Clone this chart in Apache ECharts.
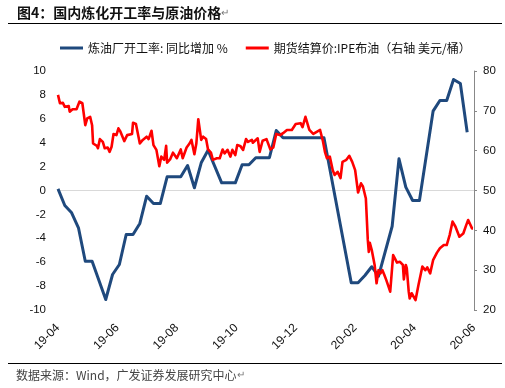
<!DOCTYPE html>
<html><head><meta charset="utf-8">
<script src="https://cdn.jsdelivr.net/npm/echarts@6/dist/echarts.min.js"></script>
<style>html,body{margin:0;padding:0;background:#fff}#c{width:505px;height:388px}</style>
</head><body><div id="c"></div>
<script>
// x values are days since 2019-04-01; ticks every 61 days (~2 months)
const tickLabels = ['19-04','19-06','19-08','19-10','19-12','20-02','20-04','20-06'];
const blueName = '炼油厂开工率: 同比增加 %';
const redName = '期货结算价:IPE布油（右轴 美元/桶）';

const blueDays = [0,7,14,21,28,35,49,56,63,70,77,84,91,98,105,112,126,133,140,147,154,168,182,189,196,203,217,224,231,273,301,308,315,322,329,343,350,357,364,371,385,392,399,406,413,420];
const blueValues = [0.14,-1.26,-1.87,-3.12,-5.92,-5.92,-9.12,-7.03,-6.19,-3.68,-3.68,-2.76,-0.48,-1.09,-1.09,1.15,1.15,2.09,0.23,2.32,3.37,0.64,0.64,2.15,2.15,2.74,2.74,5.02,4.41,4.41,-7.72,-7.72,-7.11,-6.38,-7.17,-2.99,2.65,0.28,-0.84,-0.84,6.64,7.53,7.53,9.29,8.95,4.88];

const redDays = [0,2,5,7,11,12,15,19,22,25,
28,30,33,35,36,40,41,43,46,48,
51,53,55,57,60,62,64,66,68,71,
73,76,77,80,81,84,87,89,91,93,
96,98,101,104,106,109,111,112,115,118,
122,124,126,128,130,132,135,137,140,142,
144,147,149,152,154,157,159,163,166,169,
171,174,177,179,182,184,187,190,193,195,
199,200,202,205,207,210,214,216,218,221,
224,228,231,235,240,244,249,251,254,256,
258,262,266,269,272,274,276,279,282,284,
287,290,292,296,299,302,305,308,311,313,
316,318,319,320,322,324,325,327,329,331,
333,335,337,341,344,346,348,351,354,355,
357,358,360,361,363,365,367,370,372,374,
377,379,382,385,389,392,394,396,399,402,
405,408,410,412,416,419,421,423,425,426];
const redValues = [74.0,71.9,72.0,71.0,71.2,69.8,70.4,70.4,72.3,71.9,
66.4,68.1,68.5,66.4,61.8,61.2,60.6,62.9,62.2,60.6,
60.8,59.7,61.0,64.2,63.9,65.6,64.8,64.9,62.4,63.9,
63.7,64.2,67.0,66.7,66.9,61.8,62.7,62.5,63.5,62.9,
65.0,61.4,60.2,56.1,58.5,57.7,61.2,57.0,57.8,59.5,
58.1,58.5,60.3,58.1,58.5,60.8,61.8,62.7,59.1,61.8,
67.9,62.7,63.5,62.9,60.3,59.5,57.7,58.1,58.1,60.3,
59.3,60.2,58.5,60.2,58.9,61.4,61.2,60.2,62.9,62.2,
62.7,62.0,62.0,63.1,59.7,62.5,62.9,63.4,60.3,60.8,
64.2,63.9,64.4,65.2,65.2,66.7,66.9,65.9,68.5,68.7,
65.2,64.2,64.8,65.2,62.3,59.7,58.1,58.5,55.1,53.9,
54.7,53.1,57.2,57.7,58.7,57.2,55.1,49.5,51.8,51.0,
48.0,37.6,34.6,36.9,35.1,35.5,31.3,26.7,30.0,29.2,
30.0,28.8,27.5,24.6,33.8,33.4,31.9,32.1,31.3,27.7,
31.3,30.5,24.6,22.9,24.2,23.8,22.5,26.3,26.7,30.9,
30.0,30.7,29.2,32.5,34.4,35.5,35.1,36.3,36.3,38.8,
42.2,40.9,41.3,38.4,39.2,41.3,42.6,43.0,40.5,40.5];

const xStep = 61, xMax = 427;
const leftMin = -10, leftMax = 10, leftStep = 2;
const rightMin = 20, rightMax = 80, rightStep = 10;

const FONT = "'Liberation Sans', Arial, 'Noto Sans CJK SC', sans-serif";
const CJK = "'Noto Sans CJK SC', 'Liberation Sans', sans-serif";

const chart = echarts.init(document.getElementById('c'), null, {renderer: 'canvas'});
const option = {
  animation: false,
  backgroundColor: '#fff',
  textStyle: {fontFamily: FONT},
  graphic: [
    {type: 'text', left: 17, top: 6, style: {
      text: '{t|图4：国内炼化开工率与原油价格}{m|↵}',
      rich: {
        t: {fontFamily: CJK, fontSize: 14, fontWeight: 'bold', fill: '#111'},
        m: {fontFamily: FONT, fontSize: 10, fill: '#777'}
      }}},
    {type: 'line', shape: {x1: 8, y1: 23.5, x2: 502, y2: 23.5}, style: {stroke: '#000', lineWidth: 1}},
    {type: 'line', shape: {x1: 8, y1: 363.5, x2: 502, y2: 363.5}, style: {stroke: '#000', lineWidth: 1}},
    {type: 'text', left: 16, top: 369, style: {
      text: '{s|数据来源：Wind，广发证券发展研究中心}{m|↵}',
      rich: {
        s: {fontFamily: CJK, fontSize: 12, fill: '#444'},
        m: {fontFamily: FONT, fontSize: 10, fill: '#777'}
      }}}
  ],
  legend: {
    top: 37, left: 55,
    itemWidth: 23, itemHeight: 3, itemGap: 18,
    icon: 'rect',
    textStyle: {fontFamily: CJK, fontSize: 12, color: '#111'},
    data: [blueName, redName]
  },
  grid: {left: 58, right: 31, top: 71, bottom: 78, containLabel: false},
  xAxis: {
    type: 'value', min: 0, max: xMax, interval: xStep,
    axisLine: {show: false}, axisTick: {show: false}, splitLine: {show: false},
    axisLabel: {
      rotate: 45, margin: 16, fontSize: 12, color: '#111', fontFamily: FONT,
      showMinLabel: true, showMaxLabel: true,
      formatter: v => tickLabels[Math.round(v / xStep)] || ''
    }
  },
  yAxis: [
    {
      type: 'value', min: leftMin, max: leftMax, interval: leftStep, position: 'left',
      axisLine: {show: false}, axisTick: {show: false}, splitLine: {show: false},
      axisLabel: {margin: 12, fontSize: 11.5, color: '#111', fontFamily: FONT}
    },
    {
      type: 'value', min: rightMin, max: rightMax, interval: rightStep, position: 'right',
      axisLine: {show: true, lineStyle: {color: '#888', width: 1}},
      axisTick: {show: true, length: 3, lineStyle: {color: '#888'}},
      splitLine: {show: false},
      axisLabel: {margin: 9, fontSize: 11.5, color: '#111', fontFamily: FONT}
    }
  ],
  series: [
    {
      name: blueName, type: 'line', yAxisIndex: 0,
      data: blueDays.map((d, i) => [d, blueValues[i]]),
      showSymbol: false, symbol: 'none',
      lineStyle: {color: '#1F497D', width: 3, join: 'round'},
      itemStyle: {color: '#1F497D'},
      markLine: {
        silent: true, symbol: ['none', 'none'], label: {show: false},
        lineStyle: {color: '#d9d9d9', width: 1, type: 'solid'},
        data: [{yAxis: 0}], z: 1
      },
      z: 2
    },
    {
      name: redName, type: 'line', yAxisIndex: 1,
      data: redDays.map((d, i) => [d, redValues[i]]),
      showSymbol: false, symbol: 'none',
      lineStyle: {color: '#FF0000', width: 2.6, join: 'round'},
      itemStyle: {color: '#FF0000'},
      z: 3
    }
  ]
};
chart.setOption(option);
</script>
</body></html>
